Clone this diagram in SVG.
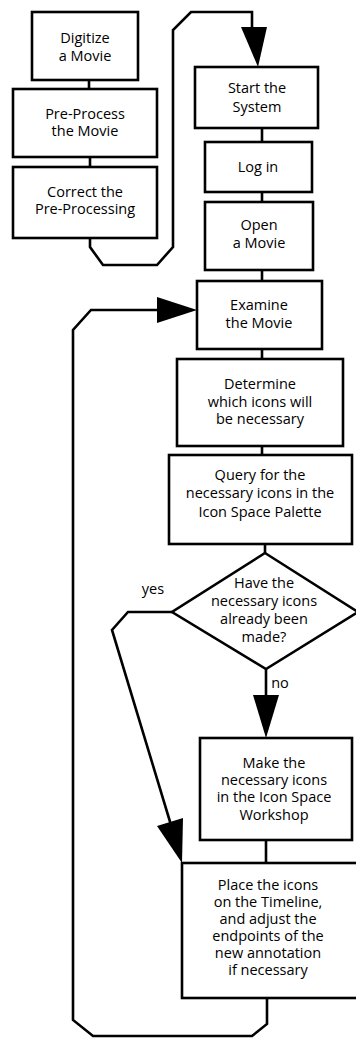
<svg xmlns="http://www.w3.org/2000/svg" width="356" height="1038" viewBox="0 0 356 1038">
  <style>
    .box { fill: #fff; stroke: #000; stroke-width: 2.6; }
    .wire { fill: none; stroke: #000; stroke-width: 2.6; stroke-linejoin: miter; }
    .head { fill: #000; stroke: none; }
    .t { font-family: "Open Sans", "Liberation Sans", sans-serif; font-size: 14.5px; fill: #000; text-anchor: middle; }
  </style>
  <rect width="356" height="1038" fill="#fff"/>

  <!-- connectors -->
  <g id="connectors">
    <!-- left column links -->
    <path class="wire" d="M89 80 V89"/>
    <path class="wire" d="M90 157 V167"/>
    <!-- from preparation column to the system start -->
    <path class="wire" d="M90 238 V247 L103 265 H157 L173 247 V30 L191 12 H252 V28"/>
    <polygon class="head" points="241,27 267,27 258,67"/>
    <!-- right column links -->
    <path class="wire" d="M262 128 V142"/>
    <path class="wire" d="M262 192 V202"/>
    <path class="wire" d="M262 270 V281"/>
    <path class="wire" d="M262 349 V359"/>
    <path class="wire" d="M262 446 V455"/>
    <path class="wire" d="M265 544 V553"/>
    <!-- no branch -->
    <path class="wire" d="M266 669 V696"/>
    <polygon class="head" points="253,695 279,695 266,738"/>
    <path class="wire" d="M266 840 V863"/>
    <!-- yes branch -->
    <path class="wire" d="M172 612 H128 L112 630 L171 825"/>
    <polygon class="head" points="183,818 157,826 182,863"/>
    <!-- loop back to Examine the Movie -->
    <path class="wire" d="M267 998 V1024 L252 1036 H93 L73 1020 V330 L91 310 H158"/>
    <polygon class="head" points="157,297 157,323 197,310"/>
    <text class="t" x="153" y="594">yes</text>
    <text class="t" x="280" y="688">no</text>
  </g>

  <g id="digitize">
    <rect class="box" x="32" y="12" width="106" height="68"/>
    <text class="t" x="85" y="43">Digitize</text>
    <text class="t" x="85" y="61">a Movie</text>
  </g>
  <g id="preprocess">
    <rect class="box" x="13" y="89" width="144" height="68"/>
    <text class="t" x="85" y="119">Pre-Process</text>
    <text class="t" x="85" y="136">the Movie</text>
  </g>
  <g id="correct">
    <rect class="box" x="13" y="167" width="144" height="71"/>
    <text class="t" x="85" y="197">Correct the</text>
    <text class="t" x="85" y="214">Pre-Processing</text>
  </g>

  <g id="start">
    <rect class="box" x="195" y="67" width="123" height="61"/>
    <text class="t" x="257" y="93">Start the</text>
    <text class="t" x="257" y="112">System</text>
  </g>
  <g id="login">
    <rect class="box" x="205" y="142" width="107" height="50"/>
    <text class="t" x="258" y="172">Log in</text>
  </g>
  <g id="open">
    <rect class="box" x="205" y="202" width="108" height="68"/>
    <text class="t" x="259" y="230">Open</text>
    <text class="t" x="259" y="248">a Movie</text>
  </g>
  <g id="examine">
    <rect class="box" x="197" y="281" width="125" height="68"/>
    <text class="t" x="259" y="310">Examine</text>
    <text class="t" x="259" y="328">the Movie</text>
  </g>
  <g id="determine">
    <rect class="box" x="177" y="359" width="166" height="87"/>
    <text class="t" x="260" y="389">Determine</text>
    <text class="t" x="260" y="407">which icons will</text>
    <text class="t" x="260" y="424">be necessary</text>
  </g>
  <g id="query">
    <rect class="box" x="169" y="455" width="183" height="89"/>
    <text class="t" x="260" y="480">Query for the</text>
    <text class="t" x="260" y="498">necessary icons in the</text>
    <text class="t" x="260" y="517">Icon Space Palette</text>
  </g>
  <g id="decision">
    <polygon class="box" points="265,553 358,612 266,669 172,612"/>
    <text class="t" x="264" y="588">Have the</text>
    <text class="t" x="264" y="606">necessary icons</text>
    <text class="t" x="264" y="624">already been</text>
    <text class="t" x="264" y="642">made?</text>
  </g>
  <g id="make">
    <rect class="box" x="200" y="738" width="152" height="102"/>
    <text class="t" x="274" y="768">Make the</text>
    <text class="t" x="274" y="785">necessary icons</text>
    <text class="t" x="274" y="802">in the Icon Space</text>
    <text class="t" x="274" y="820">Workshop</text>
  </g>
  <g id="place">
    <rect class="box" x="182" y="863" width="190" height="135"/>
    <text class="t" x="268" y="890">Place the icons</text>
    <text class="t" x="268" y="907">on the Timeline,</text>
    <text class="t" x="268" y="924">and adjust the</text>
    <text class="t" x="268" y="941">endpoints of the</text>
    <text class="t" x="268" y="958">new annotation</text>
    <text class="t" x="268" y="975">if necessary</text>
  </g>
</svg>
